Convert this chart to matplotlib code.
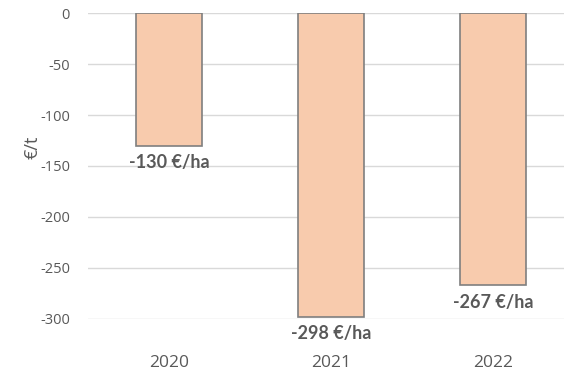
import matplotlib.pyplot as plt

# data
years = ["2020", "2021", "2022"]
values = [-130, -298, -267]
labels = ["-130 €/ha", "-298 €/ha", "-267 €/ha"]
yticks = [0, -50, -100, -150, -200, -250, -300]

plt.rcParams["font.family"] = ["Open Sans", "DejaVu Sans"]

fig = plt.figure(figsize=(5.64, 3.73), dpi=100)
ax = fig.add_axes([0.156, 0.145, 0.862, 0.82])

x = range(len(years))
ax.bar(x, values, width=0.41, color="#F8CBAD", edgecolor="#7F7F7F",
       linewidth=1.2, zorder=3)

# value labels under each bar
for xi, v, lab in zip(x, values, labels):
    ax.annotate(lab, (xi, v), xytext=(0, -6), textcoords="offset points",
                ha="center", va="top", fontsize=13, fontweight="bold",
                family=["Lato", "DejaVu Sans"],
                color="#595959", annotation_clip=False)

ax.set_xlim(-0.5, 2.5)
ax.set_ylim(-300, 0)
ax.set_yticks(yticks)
ax.set_yticklabels([str(t) for t in yticks])
ax.set_xticks(list(x))
ax.set_xticklabels(years)

ax.grid(axis="y", color="#D9D9D9", linewidth=1, zorder=0)
for s in ax.spines.values():
    s.set_visible(False)
ax.tick_params(axis="both", length=0, colors="#595959")
ax.tick_params(axis="x", pad=26, labelsize=12.5)
ax.tick_params(axis="y", pad=13, labelsize=10.5)

ax.set_ylabel("€/t", fontsize=13, color="#595959")
ax.yaxis.set_label_coords(-0.095, 0.56)

fig.savefig("out.png", dpi=100)
